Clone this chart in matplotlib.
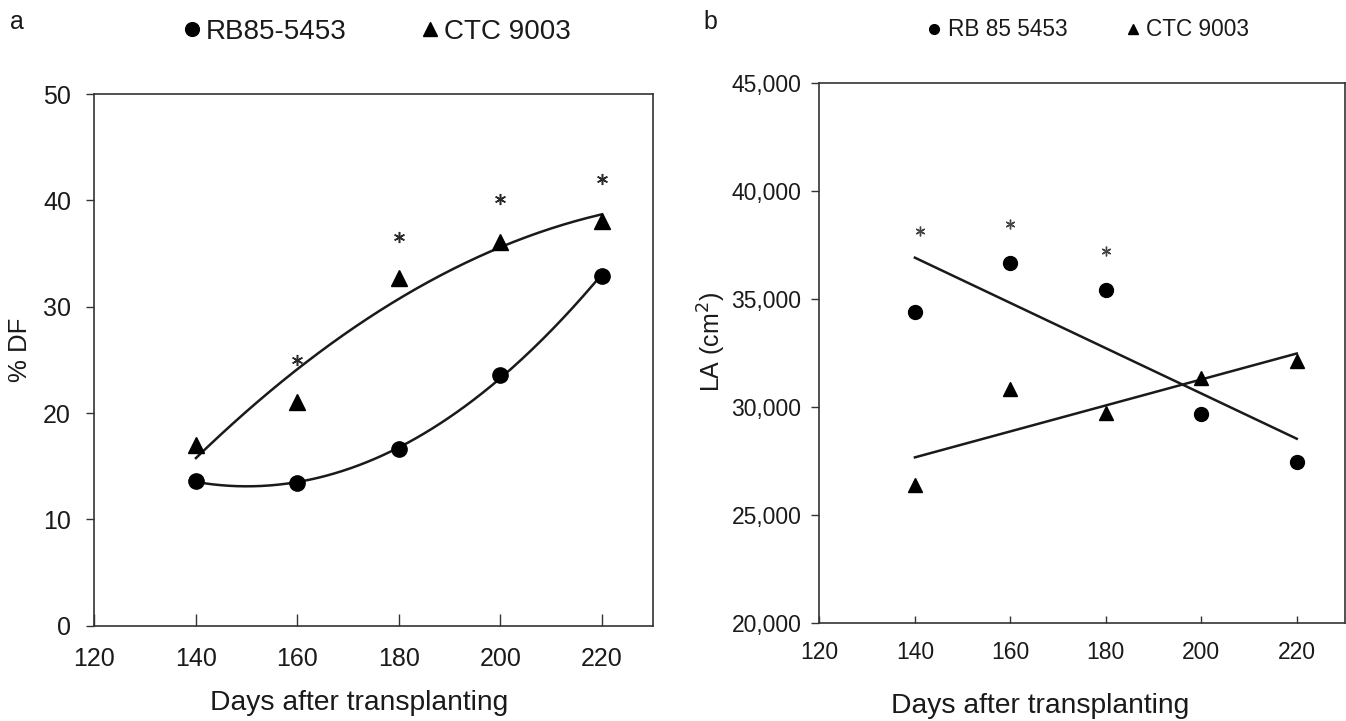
import numpy as np
import matplotlib
matplotlib.use("Agg")
import matplotlib.pyplot as plt

plt.rcParams["font.family"] = ["Liberation Sans", "DejaVu Sans"]

# days after transplanting
days = [140, 160, 180, 200, 220]

# % DF (panel a)
df_rb = [13.6, 13.4, 16.6, 23.6, 32.9]
df_ctc = [17.0, 21.0, 32.7, 36.1, 38.1]
df_star_days = [160, 180, 200, 220]
df_star_y = [25.0, 36.6, 40.1, 42.0]

# leaf area, cm2 (panel b)
la_rb = [34420, 36690, 35420, 29680, 27440]
la_ctc = [26390, 30820, 29710, 31330, 32150]
la_star_days = [141, 160, 180]
la_star_y = [38160, 38480, 37240]

xticks = [120, 140, 160, 180, 200, 220]
df_ticks = [0, 10, 20, 30, 40, 50]
la_ticks = [20000, 25000, 30000, 35000, 40000, 45000]

ink = "#1a1a1a"
spine_col = "#333333"

fig = plt.figure(figsize=(13.46, 7.21), dpi=100)
ax1 = fig.add_axes([0.0702, 0.1322, 0.4146, 0.7374])
ax2 = fig.add_axes([0.6088, 0.1359, 0.3901, 0.7485])


def style_axes(ax, ylabel, yticks, ylab_xy, xlab_xy, tick_fs, ylab_fs, xlab_fs, ypad, xpad, xtick_len):
    ax.set_xlim(120, 230)
    ax.set_xticks(xticks)
    ax.set_yticks(yticks)
    ax.tick_params(axis="x", direction="in", length=xtick_len, width=1.0, color=spine_col,
                   labelsize=tick_fs, labelcolor=ink, pad=xpad)
    ax.tick_params(axis="y", direction="out", length=6, width=1.0, color=spine_col,
                   labelsize=tick_fs, labelcolor=ink, pad=ypad)
    for s in ax.spines.values():
        s.set_color(spine_col)
        s.set_linewidth(1.2)
    ax.set_ylabel(ylabel, fontsize=ylab_fs, color=ink)
    ax.yaxis.set_label_coords(*ylab_xy)
    ax.set_xlabel("Days after transplanting", fontsize=xlab_fs, color=ink)
    ax.xaxis.set_label_coords(*xlab_xy)


# panel a: quadratic fits
xs = np.linspace(140, 220, 200)
ax1.plot(xs, np.polyval(np.polyfit(days, df_rb, 2), xs), color=ink, lw=1.8)
ax1.plot(xs, np.polyval(np.polyfit(days, df_ctc, 2), xs), color=ink, lw=1.8)
ax1.plot(days, df_rb, "o", color="black", ms=11, ls="none", label="RB85-5453")
ax1.plot(days, df_ctc, "^", color="black", ms=11, ls="none", label="CTC 9003")
ax1.plot(df_star_days, df_star_y, ls="none", marker=(6, 2, 0), ms=8, mew=1.1, color="#2a2a2a")
ax1.set_ylim(0, 50)
style_axes(ax1, "% DF", df_ticks, (-0.112, 0.518), (0.475, -0.121), 18, 18.5, 20.3, 11, 15, 9)

# panel b: linear fits
ax2.plot(xs, np.polyval(np.polyfit(days, la_rb, 1), xs), color=ink, lw=1.8)
ax2.plot(xs, np.polyval(np.polyfit(days, la_ctc, 1), xs), color=ink, lw=1.8)
ax2.plot(days, la_rb, "o", color="black", ms=10, ls="none", label="RB 85 5453")
ax2.plot(days, la_ctc, "^", color="black", ms=10, ls="none", label="CTC 9003")
ax2.plot(la_star_days, la_star_y, ls="none", marker=(6, 2, 0), ms=7, mew=1.0, color="#444444")
ax2.set_ylim(20000, 45000)
ax2.yaxis.set_major_formatter(matplotlib.ticker.StrMethodFormatter("{x:,.0f}"))
style_axes(ax2, "LA (cm$^{2}$)", la_ticks, (-0.174, 0.52), (0.42, -0.13), 16.5, 18, 20.3, 7, 13, 5)

# legends above each panel
ax1.legend(loc="center", bbox_to_anchor=(374 / 1346, 1 - 32 / 721), bbox_transform=fig.transFigure,
           ncol=2, frameon=False, fontsize=20, handletextpad=0.0, columnspacing=2.5,
           handlelength=1.0, markerscale=0.9, labelcolor=ink)
ax2.legend(loc="center", bbox_to_anchor=(1086 / 1346, 1 - 30 / 721), bbox_transform=fig.transFigure,
           ncol=2, frameon=False, fontsize=16.3, handletextpad=0.1, columnspacing=2.4,
           handlelength=1.0, markerscale=0.7, labelcolor=ink)

fig.text(17 / 1346, 1 - 22 / 721, "a", fontsize=18, color=ink, ha="center", va="center")
fig.text(710 / 1346, 1 - 22 / 721, "b", fontsize=18, color=ink, ha="center", va="center")

fig.savefig("out.png", dpi=100)
